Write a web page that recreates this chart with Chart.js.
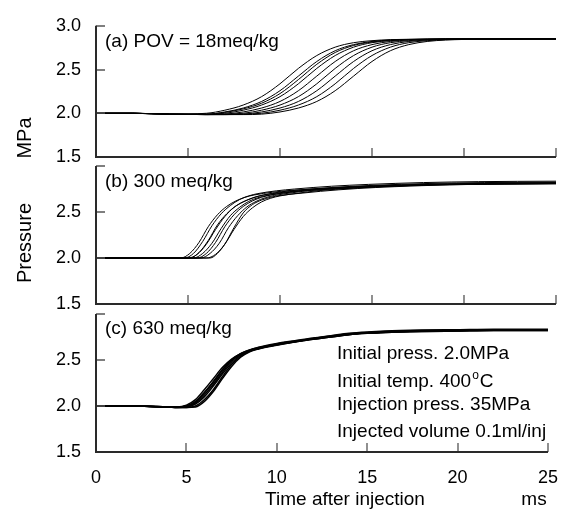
<!DOCTYPE html>
<html lang="en">
<head>
  <meta charset="UTF-8">
  <title>Pressure after injection</title>
  <script src="https://cdn.jsdelivr.net/npm/chart.js"></script>
  <style>
    * { box-sizing: border-box; margin: 0; padding: 0; }
    body { background: #fff; }
    #wrap { position: relative; width: 573px; height: 511px; }
    #wrap canvas { position: absolute; left: 0; top: 0; }
  </style>
</head>
<body>
  <div id="wrap">
    <canvas id="panelA" width="573" height="511"></canvas>
    <canvas id="panelB" width="573" height="511"></canvas>
    <canvas id="panelC" width="573" height="511"></canvas>
  </div>

  <script>
    // axis ticks (ms / MPa)
    const xTicks = [0, 5, 10, 15, 20, 25];
    const yTicks = [1.5, 2.0, 2.5, 3.0];

    // (a) POV = 18 meq/kg -- shared time axis
    const tA = [0, 2, 4, 6, 7, 8, 9, 10, 11, 12, 13, 14, 15, 16, 17, 18, 19, 20, 22, 25];
    const a1 = [2.00, 2.00, 1.99, 2.00, 2.035, 2.094, 2.19, 2.337, 2.513, 2.66, 2.756, 2.807, 2.83, 2.842, 2.846, 2.848, 2.85, 2.85, 2.851, 2.85];
    const a2 = [2.00, 2.00, 1.99, 1.99, 2.015, 2.06, 2.135, 2.258, 2.425, 2.592, 2.715, 2.785, 2.821, 2.837, 2.844, 2.847, 2.849, 2.85, 2.85, 2.852];
    const a3 = [2.00, 2.00, 1.99, 1.99, 2.01, 2.05, 2.115, 2.225, 2.385, 2.56, 2.695, 2.775, 2.815, 2.835, 2.843, 2.847, 2.85, 2.85, 2.85, 2.85];
    const a4 = [2.00, 2.00, 1.99, 1.99, 2.00, 2.035, 2.094, 2.19, 2.337, 2.513, 2.66, 2.756, 2.807, 2.83, 2.842, 2.846, 2.848, 2.85, 2.85, 2.849];
    const a5 = [2.00, 2.00, 1.99, 1.985, 1.99, 2.015, 2.06, 2.135, 2.258, 2.425, 2.592, 2.715, 2.785, 2.821, 2.837, 2.844, 2.847, 2.849, 2.85, 2.851];
    const a6 = [2.00, 2.00, 1.99, 1.985, 1.99, 2.00, 2.035, 2.094, 2.19, 2.337, 2.513, 2.66, 2.756, 2.807, 2.83, 2.842, 2.846, 2.848, 2.85, 2.85];
    const a7 = [2.00, 2.00, 1.99, 1.985, 1.985, 1.99, 2.015, 2.06, 2.135, 2.258, 2.425, 2.592, 2.715, 2.785, 2.821, 2.837, 2.844, 2.847, 2.85, 2.85];
    const a8 = [2.00, 2.00, 1.99, 1.985, 1.985, 1.99, 2.00, 2.035, 2.094, 2.19, 2.337, 2.513, 2.66, 2.756, 2.807, 2.83, 2.842, 2.846, 2.849, 2.85];
    const a9 = [2.00, 2.00, 1.99, 1.985, 1.985, 1.985, 1.99, 2.015, 2.06, 2.135, 2.258, 2.425, 2.592, 2.715, 2.785, 2.821, 2.837, 2.844, 2.849, 2.85];

    // (b) 300 meq/kg -- [time, pressure] per run
    const b1 = [[0, 2.0], [4.6, 2.0], [5.1, 2.05], [5.6, 2.17], [6.1, 2.34], [6.6, 2.47], [7.1, 2.56], [7.6, 2.62], [8.1, 2.66], [8.6, 2.685], [9.6, 2.715], [10.6, 2.735], [12.6, 2.76], [14.6, 2.78], [17.6, 2.80], [20.6, 2.81], [25, 2.815]];
    const b2 = [[0, 2.0], [4.8, 2.0], [5.3, 2.05], [5.8, 2.18], [6.3, 2.35], [6.8, 2.48], [7.3, 2.57], [7.8, 2.635], [8.3, 2.675], [8.8, 2.70], [9.8, 2.73], [10.8, 2.75], [12.8, 2.78], [14.8, 2.80], [17.8, 2.82], [20.8, 2.83], [25, 2.835]];
    const b3 = [[0, 2.0], [5.0, 2.0], [5.5, 2.04], [6.0, 2.15], [6.5, 2.31], [7.0, 2.45], [7.5, 2.55], [8.0, 2.61], [8.5, 2.65], [9.0, 2.68], [10.0, 2.71], [11.0, 2.73], [13.0, 2.76], [15.0, 2.78], [18.0, 2.795], [21.0, 2.805], [25, 2.81]];
    const b4 = [[0, 2.0], [5.1, 2.0], [5.6, 2.06], [6.1, 2.19], [6.6, 2.36], [7.1, 2.48], [7.6, 2.565], [8.1, 2.62], [8.6, 2.66], [9.1, 2.685], [10.1, 2.72], [11.1, 2.74], [13.1, 2.77], [15.1, 2.79], [18.1, 2.81], [21.1, 2.82], [25, 2.825]];
    const b5 = [[0, 2.0], [5.3, 2.0], [5.8, 2.05], [6.3, 2.16], [6.8, 2.32], [7.3, 2.46], [7.8, 2.55], [8.3, 2.615], [8.8, 2.655], [9.3, 2.68], [10.3, 2.71], [11.3, 2.73], [13.3, 2.755], [15.3, 2.775], [18.3, 2.795], [21.3, 2.80], [25, 2.805]];
    const b6 = [[0, 2.0], [5.5, 2.0], [6.0, 2.05], [6.5, 2.17], [7.0, 2.34], [7.5, 2.47], [8.0, 2.56], [8.5, 2.62], [9.0, 2.66], [9.5, 2.685], [10.5, 2.715], [11.5, 2.74], [13.5, 2.765], [15.5, 2.785], [18.5, 2.80], [21.5, 2.81], [25, 2.82]];
    const b7 = [[0, 2.0], [5.7, 2.0], [6.2, 2.05], [6.7, 2.16], [7.2, 2.33], [7.7, 2.46], [8.2, 2.555], [8.7, 2.615], [9.2, 2.655], [9.7, 2.68], [10.7, 2.71], [11.7, 2.735], [13.7, 2.76], [15.7, 2.78], [18.7, 2.80], [21.7, 2.81], [25, 2.815]];
    const b8 = [[0, 2.0], [6.0, 2.0], [6.5, 2.04], [7.0, 2.15], [7.5, 2.31], [8.0, 2.45], [8.5, 2.545], [9.0, 2.61], [9.5, 2.65], [10.0, 2.675], [11.0, 2.705], [12.0, 2.73], [14.0, 2.76], [16.0, 2.78], [19.0, 2.80], [22.0, 2.81], [25, 2.815]];
    const b9 = [[0, 2.0], [6.2, 2.0], [6.6, 2.05], [7.0, 2.15], [7.5, 2.33], [8.0, 2.49], [8.5, 2.58], [9.0, 2.63], [9.5, 2.66], [10.0, 2.68], [11.2, 2.705], [12.2, 2.725], [14.2, 2.755], [16.2, 2.775], [19.2, 2.795], [22.2, 2.805], [25, 2.81]];

    // (c) 630 meq/kg -- shared time axis
    const tC = [0, 2, 4, 4.5, 5, 5.5, 6, 6.5, 7, 7.5, 8, 8.5, 9, 10, 11, 12, 13, 14, 15, 16, 18, 20, 22, 25];
    const c1 = [2.00, 2.00, 1.99, 1.99, 2.01, 2.07, 2.18, 2.30, 2.42, 2.51, 2.57, 2.61, 2.635, 2.675, 2.705, 2.735, 2.76, 2.785, 2.80, 2.81, 2.82, 2.825, 2.83, 2.83];
    const c2 = [2.00, 2.00, 1.99, 1.99, 2.00, 2.05, 2.15, 2.27, 2.40, 2.50, 2.565, 2.605, 2.63, 2.67, 2.70, 2.73, 2.755, 2.78, 2.795, 2.805, 2.815, 2.82, 2.825, 2.825];
    const c3 = [2.00, 2.00, 1.99, 1.99, 1.99, 2.03, 2.12, 2.24, 2.37, 2.49, 2.56, 2.605, 2.63, 2.67, 2.70, 2.73, 2.755, 2.78, 2.795, 2.805, 2.815, 2.82, 2.825, 2.825];
    const c4 = [2.00, 2.00, 1.99, 1.985, 1.99, 2.02, 2.10, 2.22, 2.35, 2.47, 2.55, 2.60, 2.625, 2.665, 2.695, 2.725, 2.75, 2.775, 2.79, 2.80, 2.81, 2.815, 2.82, 2.82];
    const c5 = [2.00, 2.00, 1.99, 1.985, 1.985, 2.00, 2.07, 2.18, 2.32, 2.45, 2.54, 2.595, 2.625, 2.665, 2.70, 2.73, 2.755, 2.78, 2.795, 2.805, 2.815, 2.82, 2.825, 2.83];
    const c6 = [2.00, 2.00, 1.99, 1.985, 1.985, 1.99, 2.05, 2.16, 2.30, 2.43, 2.53, 2.59, 2.62, 2.66, 2.695, 2.725, 2.75, 2.775, 2.79, 2.80, 2.81, 2.815, 2.82, 2.82];
    const c7 = [2.00, 2.00, 1.99, 1.99, 2.00, 2.04, 2.14, 2.26, 2.39, 2.50, 2.57, 2.61, 2.64, 2.68, 2.71, 2.74, 2.765, 2.79, 2.805, 2.815, 2.825, 2.83, 2.835, 2.835];

    const FONT = "'Liberation Sans', Arial, sans-serif";
    Chart.defaults.font.family = FONT;
    Chart.defaults.color = '#000';

    // helpers: turn arrays into {x, y} points
    function fromShared(ts, vs) { return vs.map((v, i) => ({ x: ts[i], y: v })); }
    function fromPairs(pp) { return pp.map(p => ({ x: p[0], y: p[1] })); }

    function lineSet(points, width) {
      return {
        data: points,
        borderColor: '#000',
        borderWidth: width,
        pointRadius: 0,
        fill: false,
        cubicInterpolationMode: 'monotone'
      };
    }

    // axes drawn as in the paper: left + bottom line, ticks pointing inward
    const framePlugin = {
      id: 'frame',
      afterDatasetsDraw(chart, args, opts) {
        const ctx = chart.ctx;
        const a = chart.chartArea;
        const xs = chart.scales.x, ys = chart.scales.y;
        ctx.save();
        ctx.strokeStyle = '#555';
        ctx.lineWidth = 1.3;
        ctx.beginPath();
        xTicks.forEach(v => {
          if (v === 0) return;
          const px = Math.round(xs.getPixelForValue(v));
          ctx.moveTo(px, a.bottom);
          ctx.lineTo(px, a.bottom - 9);
        });
        yTicks.forEach(v => {
          if (v === 1.5) return;
          const py = Math.round(ys.getPixelForValue(v));
          ctx.moveTo(a.left, py);
          ctx.lineTo(a.left + 9, py);
        });
        ctx.stroke();

        ctx.strokeStyle = '#2a2a2a';
        ctx.lineWidth = 2;
        ctx.beginPath();
        ctx.moveTo(a.left, a.top);
        ctx.lineTo(a.left, a.bottom);
        ctx.lineTo(a.right, a.bottom);
        ctx.stroke();

        // panel label
        ctx.fillStyle = '#000';
        ctx.font = '19px ' + FONT;
        ctx.textBaseline = 'alphabetic';
        ctx.textAlign = 'left';
        ctx.fillText(opts.label, a.left + 9, a.top + opts.labelDy);

        if (opts.extra) {
          // experimental conditions
          const lx = 337;
          ctx.fillText('Initial press. 2.0MPa', lx, 359);
          const pre = 'Initial temp. 400';
          ctx.fillText(pre, lx, 387);
          let w = ctx.measureText(pre).width;
          ctx.font = '12px ' + FONT;
          ctx.fillText('o', lx + w + 1, 379);
          const wo = ctx.measureText('o').width;
          ctx.font = '19px ' + FONT;
          ctx.fillText('C', lx + w + wo + 2, 387);
          ctx.fillText('Injection press. 35MPa', lx, 410);
          ctx.fillText('Injected volume 0.1ml/inj', lx, 437);

          // x axis title
          ctx.textBaseline = 'middle';
          ctx.textAlign = 'center';
          ctx.fillText('Time after injection', 345, 500);
          ctx.fillText('ms', 534, 500);

          // y axis title
          ctx.font = '20px ' + FONT;
          ctx.save();
          ctx.translate(25, 138);
          ctx.rotate(-Math.PI / 2);
          ctx.fillText('MPa', 0, 0);
          ctx.restore();
          ctx.save();
          ctx.translate(25, 243);
          ctx.rotate(-Math.PI / 2);
          ctx.fillText('Pressure', 0, 0);
          ctx.restore();
        }
        ctx.restore();
      }
    };

    function makePanel(id, datasets, cfg) {
      return new Chart(document.getElementById(id), {
        type: 'line',
        data: { datasets },
        options: {
          responsive: false,
          animation: false,
          devicePixelRatio: 1,
          layout: { padding: { top: cfg.top, bottom: cfg.bottom, left: 0, right: 17 } },
          plugins: {
            legend: { display: false },
            tooltip: { enabled: false },
            frame: { label: cfg.label, labelDy: cfg.labelDy, extra: cfg.extra }
          },
          scales: {
            x: {
              type: 'linear',
              min: 0, max: 25,
              display: cfg.showX,
              grid: { display: false, drawTicks: false },
              border: { display: false },
              afterBuildTicks: s => { s.ticks = xTicks.map(v => ({ value: v })); },
              afterFit: s => { s.height = cfg.showX ? 45 : 0; },
              ticks: { font: { size: 18 }, padding: 15, maxRotation: 0 }
            },
            y: {
              type: 'linear',
              min: 1.5, max: 3.0,
              grid: { display: false, drawTicks: false },
              border: { display: false },
              afterBuildTicks: s => { s.ticks = yTicks.map(v => ({ value: v })); },
              afterFit: s => { s.width = 96; },
              ticks: {
                font: { size: 18 },
                padding: 15,
                callback: v => (cfg.showTop || v < 3) ? v.toFixed(1) : ''
              }
            }
          }
        },
        plugins: [framePlugin]
      });
    }

    makePanel('panelA',
      [a1, a2, a3, a4, a5, a6, a7, a8, a9].map(v => lineSet(fromShared(tA, v), 1)),
      { top: 18, bottom: 354, showX: false, showTop: true, label: '(a) POV = 18meq/kg', labelDy: 21 });

    makePanel('panelB',
      [b1, b2, b3, b4, b5, b6, b7, b8, b9].map(p => lineSet(fromPairs(p), 1)),
      { top: 166, bottom: 207, showX: false, showTop: false, label: '(b) 300 meq/kg', labelDy: 21 });

    makePanel('panelC',
      [c1, c2, c3, c4, c5, c6, c7].map(v => lineSet(fromShared(tC, v), 1.5)),
      { top: 314, bottom: 14, showX: true, showTop: false, label: '(c) 630 meq/kg', labelDy: 20, extra: true });
  </script>
</body>
</html>
